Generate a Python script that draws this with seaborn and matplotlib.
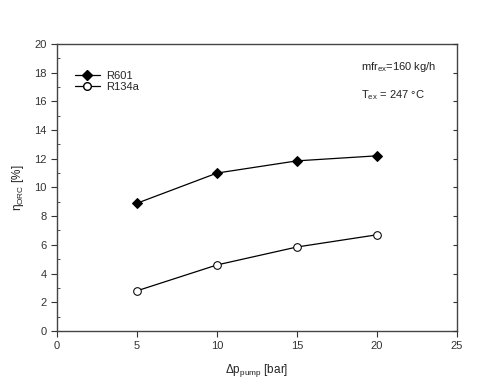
import matplotlib
matplotlib.use("Agg")
import matplotlib.pyplot as plt
import seaborn as sns
import pandas as pd
from matplotlib.ticker import MultipleLocator

# values
dp_pump = [5, 10, 15, 20]
eta_r601 = [8.9, 11.0, 11.85, 12.2]
eta_r134a = [2.8, 4.6, 5.85, 6.7]

df = pd.DataFrame({
    "dp": dp_pump * 2,
    "eta": eta_r601 + eta_r134a,
    "fluid": ["R601"] * 4 + ["R134a"] * 4,
})

sns.set_style("ticks")
plt.rcParams["font.family"] = ["Liberation Sans", "DejaVu Sans"]
plt.rcParams["mathtext.fontset"] = "custom"
plt.rcParams["mathtext.rm"] = "Liberation Sans"
plt.rcParams["mathtext.it"] = "Liberation Sans"

fig = plt.figure(figsize=(4.8, 3.88), dpi=100)
ax = fig.add_axes([0.119, 0.147, 0.833, 0.740])

sns.lineplot(data=df, x="dp", y="eta", hue="fluid", style="fluid",
             palette={"R601": "black", "R134a": "black"},
             markers={"R601": "D", "R134a": "o"}, dashes=False,
             markersize=5.5, linewidth=0.9, ax=ax, legend=False)
# hollow circles for R134a
ax.lines[1].set_markerfacecolor("white")
ax.lines[1].set_markeredgecolor("black")
ax.lines[0].set_markeredgecolor("black")

h1, = ax.plot([], [], color="black", marker="D", markersize=5.5, linewidth=0.9)
h2, = ax.plot([], [], color="black", marker="o", markersize=5.5, linewidth=0.9,
              markerfacecolor="white")
ax.legend([h1, h2], ["R601", "R134a"], loc="upper left", frameon=False,
          fontsize=8, handlelength=2.2, handletextpad=0.6, labelspacing=0.1,
          bbox_to_anchor=(0.02, 0.94))

ax.set_xlim(0, 25)
ax.set_ylim(0, 20)
ax.xaxis.set_major_locator(MultipleLocator(5))
ax.yaxis.set_major_locator(MultipleLocator(2))
ax.yaxis.set_minor_locator(MultipleLocator(1))
ax.tick_params(axis="both", which="major", direction="out", length=4,
               width=0.8, labelsize=8, colors="#333333")
ax.tick_params(axis="y", which="minor", direction="in", length=2, width=0.6,
               colors="#333333")
for s in ax.spines.values():
    s.set_color("#444444")
    s.set_linewidth(1.0)

# inward ticks on the right spine
ax_r = ax.twinx()
ax_r.set_ylim(0, 20)
ax_r.yaxis.set_major_locator(MultipleLocator(2))
ax_r.tick_params(axis="y", direction="in", length=3, width=0.8,
                 labelright=False, colors="#333333")
for s in ax_r.spines.values():
    s.set_visible(False)

ax.set_xlabel(r"$\Delta$p$_{\mathrm{pump}}$ [bar]", fontsize=8.5, labelpad=8,
              color="#222222")
ax.set_ylabel(r"$\eta_{\mathrm{ORC}}$ [%]", fontsize=8.5, labelpad=6,
              color="#222222")

ax.text(0.76, 0.91, r"mfr$_{\mathrm{ex}}$=160 kg/h", transform=ax.transAxes,
        fontsize=8, color="#222222")
ax.text(0.76, 0.81, r"T$_{\mathrm{ex}}$ = 247 °C", transform=ax.transAxes,
        fontsize=8, color="#222222")

fig.savefig("out.png", dpi=100)
